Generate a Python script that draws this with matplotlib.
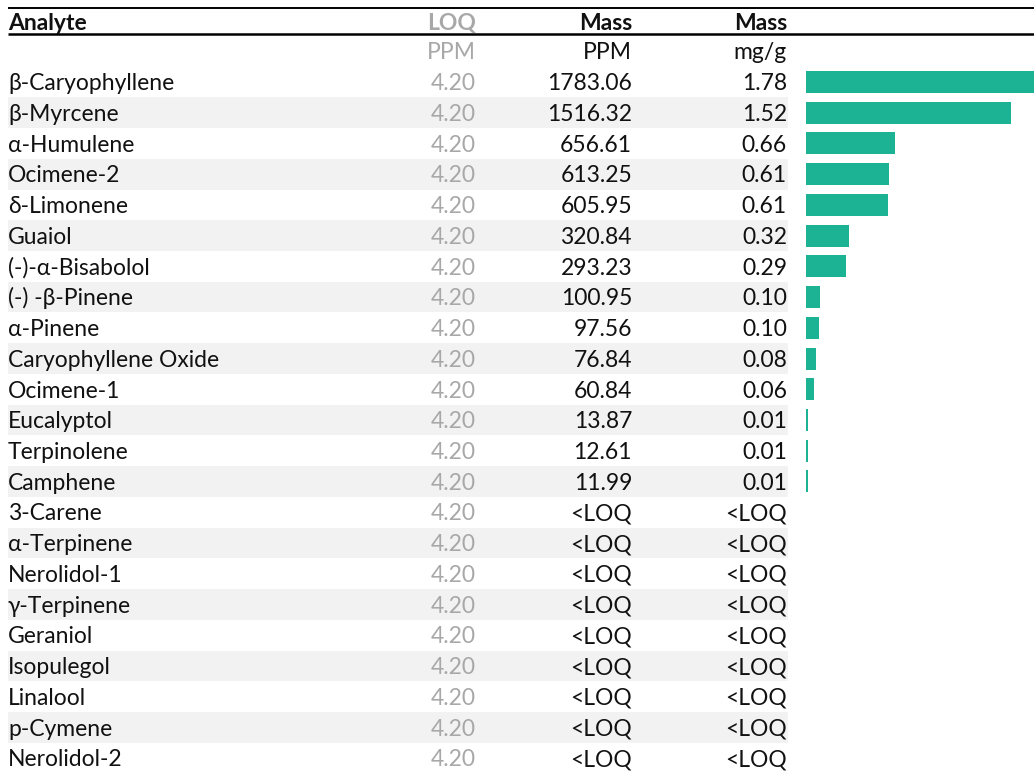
import matplotlib
matplotlib.use("Agg")
import matplotlib.pyplot as plt

analytes = ["β-Caryophyllene", "β-Myrcene", "α-Humulene", "Ocimene-2", "δ-Limonene",
            "Guaiol", "(-)-α-Bisabolol", "(-) -β-Pinene", "α-Pinene", "Caryophyllene Oxide",
            "Ocimene-1", "Eucalyptol", "Terpinolene", "Camphene", "3-Carene", "α-Terpinene",
            "Nerolidol-1", "γ-Terpinene", "Geraniol", "Isopulegol", "Linalool", "p-Cymene",
            "Nerolidol-2"]
loq = ["4.20"] * len(analytes)
mass_ppm = [1783.06, 1516.32, 656.61, 613.25, 605.95, 320.84, 293.23, 100.95, 97.56,
            76.84, 60.84, 13.87, 12.61, 11.99] + [None] * 9
mass_mgg = ["1.78", "1.52", "0.66", "0.61", "0.61", "0.32", "0.29", "0.10", "0.10",
            "0.08", "0.06", "0.01", "0.01", "0.01"] + ["<LOQ"] * 9
headers = ["Analyte", "LOQ", "Mass", "Mass"]
subheaders = ["", "PPM", "PPM", "mg/g"]

W, H = 1034, 772
fig = plt.figure(figsize=(W / 100, H / 100), dpi=100)
plt.rcParams['font.family'] = ['Lato', 'DejaVu Sans']

ax = fig.add_axes([0, 0, 1, 1])
ax.set_xlim(0, W)
ax.set_ylim(H, 0)
ax.axis("off")

FS = 16.5
row0, pitch = 82.0, 30.73
base_off = 8.2
x_left, x_loq, x_ppm, x_mgg, x_stripe_end = 8, 476, 632, 787, 788
grey = "#a8a8a8"
black = "#111111"

# header lines
ax.plot([8, W], [8, 8], color="black", lw=1.4, solid_capstyle="butt")
ax.plot([8, W], [34, 34], color="black", lw=1.8, solid_capstyle="butt")

hy = 22 + base_off
ax.text(x_left, hy, headers[0], fontsize=FS, fontweight="bold", color=black, ha="left", va="baseline")
ax.text(x_loq, hy, headers[1], fontsize=FS, fontweight="bold", color=grey, ha="right", va="baseline")
ax.text(x_ppm, hy, headers[2], fontsize=FS, fontweight="bold", color=black, ha="right", va="baseline")
ax.text(x_mgg, hy, headers[3], fontsize=FS, fontweight="bold", color=black, ha="right", va="baseline")
sy = 51 + base_off
ax.text(x_loq, sy, subheaders[1], fontsize=FS, color=grey, ha="right", va="baseline")
ax.text(x_ppm, sy, subheaders[2], fontsize=FS, color=black, ha="right", va="baseline")
ax.text(x_mgg, sy, subheaders[3], fontsize=FS, color=black, ha="right", va="baseline")

centers = [row0 + i * pitch for i in range(len(analytes))]
for i, (name, lq, ppm, mg) in enumerate(zip(analytes, loq, mass_ppm, mass_mgg)):
    yc = centers[i]
    if i % 2 == 1:
        ax.add_patch(plt.Rectangle((x_left, yc - pitch / 2), x_stripe_end - x_left, pitch,
                                   facecolor="#f2f2f2", edgecolor="none", zorder=0))
    yb = yc + base_off
    ax.text(x_left, yb, name, fontsize=FS, color=black, ha="left", va="baseline")
    ax.text(x_loq, yb, lq, fontsize=FS, color=grey, ha="right", va="baseline")
    ax.text(x_ppm, yb, f"{ppm:.2f}" if ppm is not None else "<LOQ", fontsize=FS,
            color=black, ha="right", va="baseline")
    ax.text(x_mgg, yb, mg, fontsize=FS, color=black, ha="right", va="baseline")

# bars
bx0 = 806
px_per_unit = 0.135
bax = fig.add_axes([bx0 / W, 0, (W - bx0) / W, 1])
bax.set_xlim(0, (W - bx0) / px_per_unit)
bax.set_ylim(H, 0)
bax.axis("off")
vals = [v for v in mass_ppm if v is not None]
bax.barh(centers[:len(vals)], vals, height=22, color="#1cb394")

fig.savefig("out.png", dpi=100)
